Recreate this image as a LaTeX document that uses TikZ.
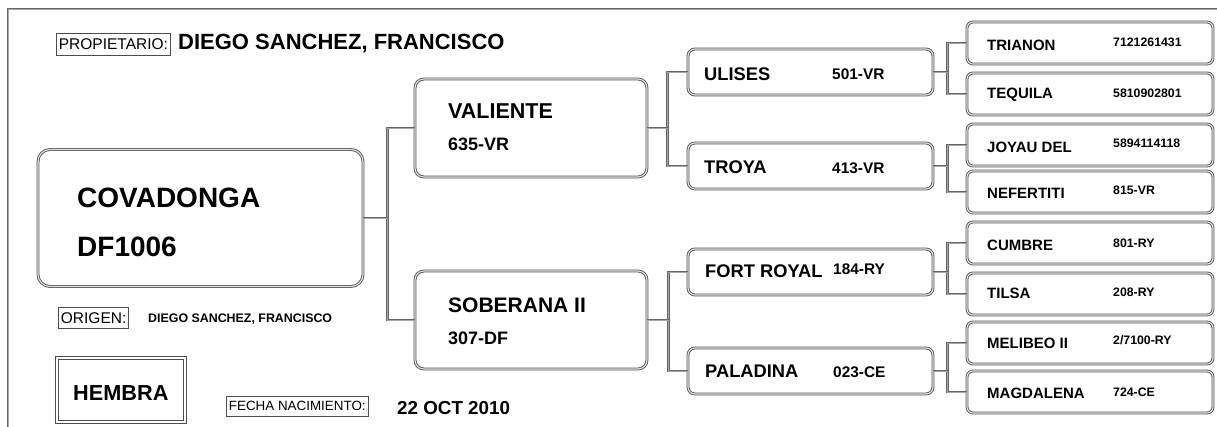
\documentclass[tikz,border=0pt]{standalone}
\usepackage{fontspec}
\setmainfont{Liberation Sans}
\usepackage{tikz}
\newcommand{\fs}[1]{\fontsize{#1}{#1}\selectfont}

\begin{document}
\begin{tikzpicture}[x=1pt, y=-1pt,
    line/.style={draw=black!65, line width=0.9pt, double=black!12, double distance=1.1pt},
    card/.style={line, rounded corners=#1, inner sep=0pt},
    main/.style={card=12pt, minimum width=325pt, minimum height=137pt},
    sire/.style={card=9pt, minimum width=232pt, minimum height=98pt},
    gsire/.style={card=7pt, minimum width=245pt, minimum height=46pt},
    ggsire/.style={card=6pt, minimum width=246pt, minimum height=42pt},
    link/.style={draw=black!60, line width=1pt, double=black!35, double distance=0.8pt},
    tag/.style={draw=black!70, line width=0.8pt, inner sep=2.5pt, minimum height=22pt, anchor=west, font=\fs{#1}},
    txt/.style={anchor=west, inner sep=0pt, font=\bfseries\fs{#1}}]
    \useasboundingbox (0,0) rectangle (1217,427);

    % frame
    \draw[link] (1217,9) -- (8,9) -- (8,427);

    % header and footer
    \node[tag=15.5] (owner) at (56,44) {PROPIETARIO:};
    \node[txt=22] (ownername) at (178,44) {DIEGO SANCHEZ, FRANCISCO};
    \node[tag=15.5, minimum height=21pt] (origin) at (58,318) {ORIGEN:};
    \node[txt=12.4] (originname) at (148,319) {DIEGO SANCHEZ, FRANCISCO};
    \node[draw=black!70, line width=0.8pt, double=white, double distance=1.6pt, minimum width=128pt, minimum height=64pt] (sex) at (121,390) {};
    \node[txt=21.7] (sexname) at (73,393) {HEMBRA};
    \node[tag=13.4, minimum height=20pt] (birth) at (226,406) {FECHA NACIMIENTO:};
    \node[txt=18.8] (birthdate) at (397,408) {22 OCT 2010};

    % animal
    \node[main] (cova) at (200.5,218) {};
    \node[txt=28] at (77,198) {COVADONGA};
    \node[txt=28] at (77,247) {DF1006};

    % parents
    \node[sire] (valiente) at (531,128) {};
    \node[txt=21.5] at (448,111) {VALIENTE};
    \node[txt=18] at (448,144) {635-VR};
    \node[sire] (soberana) at (531,320) {};
    \node[txt=21] at (448,305) {SOBERANA II};
    \node[txt=18] at (448,338) {307-DF};

    % grandparents
    \node[gsire] (ulises) at (810.5,72) {};
    \node[txt=18.3] at (704,74) {ULISES};
    \node[txt=15.4] at (832,74) {501-VR};
    \node[gsire] (troya) at (810.5,166) {};
    \node[txt=18.3] at (704,167) {TROYA};
    \node[txt=15.4] at (832,168) {413-VR};
    \node[gsire] (fort) at (810.5,272) {};
    \node[txt=18.3] at (705,271) {FORT ROYAL};
    \node[txt=15.4] at (833,269) {184-RY};
    \node[gsire] (paladina) at (810.5,371) {};
    \node[txt=18.3] at (705,371) {PALADINA};
    \node[txt=15.4] at (833,372) {023-CE};

    % great-grandparents
    \node[ggsire] (trianon) at (1090,43) {};
    \node[txt=15] at (987,45) {TRIANON};
    \node[txt=12.3] at (1113,42) {7121261431};
    \node[ggsire] (tequila) at (1090,94) {};
    \node[txt=15] at (987,95) {TEQUILA};
    \node[txt=12.3] at (1113,93) {5810902801};
    \node[ggsire] (joyau) at (1090,145) {};
    \node[txt=15] at (987,147) {JOYAU DEL};
    \node[txt=12.3] at (1113,143) {5894114118};
    \node[ggsire] (nefertiti) at (1090,192) {};
    \node[txt=15] at (987,193) {NEFERTITI};
    \node[txt=12.3] at (1113,190) {815-VR};
    \node[ggsire] (cumbre) at (1090,243) {};
    \node[txt=15] at (987,245) {CUMBRE};
    \node[txt=12.3] at (1113,243) {801-RY};
    \node[ggsire] (tilsa) at (1090,294) {};
    \node[txt=15] at (987,293) {TILSA};
    \node[txt=12.3] at (1113,292) {208-RY};
    \node[ggsire] (melibeo) at (1090,343) {};
    \node[txt=15] at (987,343) {MELIBEO II};
    \node[txt=12.3] at (1113,340) {2/7100-RY};
    \node[ggsire] (magdalena) at (1090,392) {};
    \node[txt=15] at (987,393) {MAGDALENA};
    \node[txt=12.3] at (1113,392) {724-CE};

    % connectors
    \draw[link] (cova.east) -- ++(24,0) |- (valiente.west);
    \draw[link] (cova.east) -- ++(24,0) |- (soberana.west);
    \draw[link] (valiente.east) -- ++(20,0) |- (ulises.west);
    \draw[link] (valiente.east) -- ++(20,0) |- (troya.west);
    \draw[link] (soberana.east) -- ++(21,0) |- (fort.west);
    \draw[link] (soberana.east) -- ++(21,0) |- (paladina.west);
    \draw[link] (ulises.east) -- ++(14,0) |- (trianon.west);
    \draw[link] (ulises.east) -- ++(14,0) |- (tequila.west);
    \draw[link] (troya.east) -- ++(14,0) |- (joyau.west);
    \draw[link] (troya.east) -- ++(14,0) |- (nefertiti.west);
    \draw[link] (fort.east) -- ++(14,0) |- (cumbre.west);
    \draw[link] (fort.east) -- ++(14,0) |- (tilsa.west);
    \draw[link] (paladina.east) -- ++(14,0) |- (melibeo.west);
    \draw[link] (paladina.east) -- ++(14,0) |- (magdalena.west);
\end{tikzpicture}
\end{document}
